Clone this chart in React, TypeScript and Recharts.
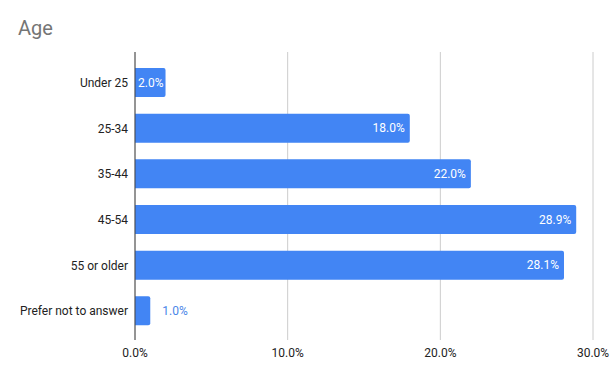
import React from "react";
import { BarChart, Bar, XAxis, YAxis, CartesianGrid, LabelList } from "recharts";

const categories = ["Under 25", "25-34", "35-44", "45-54", "55 or older", "Prefer not to answer"];
const values = [2.0, 18.0, 22.0, 28.9, 28.1, 1.0];
const xTicks = [0, 10, 20, 30];

const data = categories.map((c, i) => ({ name: c, value: values[i] }));

const FONT = "Roboto, Arial, sans-serif";

const ValueLabel = (props: any) => {
  const { x, y, width, height, value } = props;
  const cy = y + height / 2;
  const txt = `${Number(value).toFixed(1)}%`;
  if (value < 1.5) {
    return (
      <text x={x + width + 12} y={cy} dy="0.35em" fill="#4a86e8" fontSize={12} fontFamily={FONT} textAnchor="start">
        {txt}
      </text>
    );
  }
  const endX = Math.max(x + width - 5, x + 3 + 26);
  return (
    <text x={Math.min(endX, x + width - 2)} y={cy} dy="0.35em" fill="#ffffff" fontSize={12} fontFamily={FONT} textAnchor="end">
      {txt}
    </text>
  );
};

export default function App() {
  return (
    <div style={{ position: "absolute", left: 0, top: 0, width: 611, height: 378, background: "#fff" }}>
      <div
        style={{
          position: "absolute",
          left: 18,
          top: 16,
          fontFamily: FONT,
          fontSize: 20,
          color: "#757575",
          lineHeight: "24px",
        }}
      >
        Age
      </div>
      <BarChart
        width={611}
        height={378}
        data={data}
        layout="vertical"
        margin={{ top: 52, right: 18, bottom: 0, left: 0 }}
        barCategoryGap={16}
      >
        <CartesianGrid horizontal={false} stroke="#cccccc" />
        <XAxis
          type="number"
          domain={[0, 30]}
          ticks={xTicks}
          tickFormatter={(v: number) => `${v.toFixed(1)}%`}
          axisLine={false}
          tickLine={false}
          tickSize={0}
          tickMargin={8}
          height={38}
          tick={{ fill: "#222222", fontSize: 12, fontFamily: FONT }}
          interval={0}
        />
        <YAxis
          type="category"
          dataKey="name"
          width={135}
          axisLine={{ stroke: "#444444", strokeWidth: 1 }}
          tickLine={false}
          tickSize={0}
          tickMargin={7}
          padding={{ top: 8, bottom: 6 }}
          tick={{ fill: "#222222", fontSize: 12, fontFamily: FONT }}
          interval={0}
        />
        <Bar dataKey="value" fill="#4285f4" barSize={29} radius={[0, 2, 2, 0]} isAnimationActive={false}>
          <LabelList dataKey="value" content={ValueLabel} />
        </Bar>
      </BarChart>
    </div>
  );
}
